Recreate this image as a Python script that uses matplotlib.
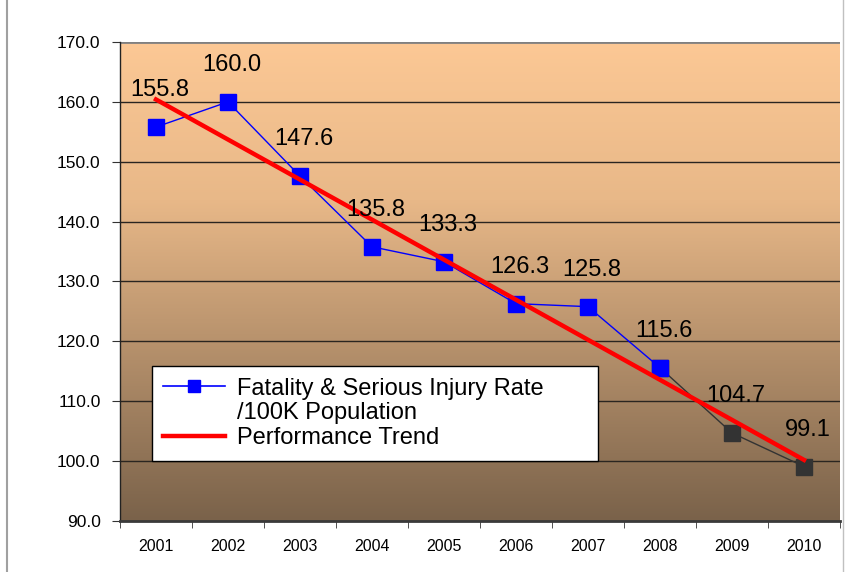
#!/usr/bin/env python3
"""Fatality & serious injury rate per 100K population, 2001-2010, with trend line"""

import numpy as np
import matplotlib

matplotlib.use("Agg")
import matplotlib.pyplot as plt
from matplotlib.colors import LinearSegmentedColormap
from matplotlib.lines import Line2D

# ========================================================================
#
# Data
#
# ========================================================================
years = ["2001", "2002", "2003", "2004", "2005", "2006", "2007", "2008", "2009", "2010"]
rates = [155.8, 160.0, 147.6, 135.8, 133.3, 126.3, 125.8, 115.6, 104.7, 99.1]
n_actual = 8  # first 8 years drawn in blue, the rest in dark grey
trend_ends = [160.4, 100.2]  # performance trend at 2001 and 2010
yticks = [90, 100, 110, 120, 130, 140, 150, 160, 170]

rate_label = ["Fatality & Serious Injury Rate", "/100K Population"]
trend_label = "Performance Trend"

# ========================================================================
#
# Plot
#
# ========================================================================
plt.rcParams["font.family"] = ["Liberation Sans", "DejaVu Sans"]

fig = plt.figure(figsize=(8.53, 5.72), dpi=100)
ax = fig.add_axes([120 / 853, 1 - 521 / 572, 720 / 853, 479 / 572])

x = np.arange(len(years))
ax.set_xlim(-0.5, len(years) - 0.5)
ax.set_ylim(90, 170)

# gradient background
cmap = LinearSegmentedColormap.from_list(
    "bg", [(0.0, "#7a624a"), (0.67, "#e8b888"), (1.0, "#fcc895")]
)
grad = np.linspace(0, 1, 256).reshape(-1, 1)
ax.imshow(
    grad,
    origin="lower",
    aspect="auto",
    cmap=cmap,
    extent=[-0.5, len(years) - 0.5, 90, 170],
    zorder=0,
)

# grid
for yv in yticks[1:-1]:
    ax.axhline(yv, color="#2a2520", lw=1.0, zorder=1)
ax.axhline(yticks[-1], color="#808080", lw=2.0, zorder=1)

# series
dark = "#333333"
ax.plot(x[n_actual - 1:], rates[n_actual - 1:], color=dark, lw=1.0, zorder=2)
ax.plot(
    x[n_actual - 1:], rates[n_actual - 1:], ls="none", marker="s", ms=12,
    color=dark, mec=dark, zorder=3,
)
ax.plot(
    x[:n_actual], rates[:n_actual], color="#0000ff", lw=1.0, marker="s", ms=12,
    mec="#0000ff", zorder=4,
)
ax.plot([x[0], x[-1]], trend_ends, color="#ff0000", lw=3.2, zorder=5)

for xi, yi in zip(x, rates):
    ax.annotate(
        f"{yi:.1f}", (xi, yi), xytext=(4, 37), textcoords="offset pixels",
        ha="center", va="center", fontsize=17, color="black", zorder=6,
    )

# axes styling
ax.set_yticks(yticks)
ax.set_yticklabels([f"{v:.1f}" for v in yticks], fontsize=12.5)
ax.set_xticks(x)
ax.set_xticklabels(years, fontsize=11.5)
ax.set_xticks(np.arange(-0.5, len(years)), minor=True)
ax.tick_params(axis="x", which="major", length=0, pad=13)
ax.tick_params(axis="x", which="minor", length=5, color="#333333")
ax.tick_params(axis="y", length=6, pad=8, color="#333333")

for side in ["top", "right"]:
    ax.spines[side].set_visible(False)
ax.spines["left"].set_color("#222222")
ax.spines["left"].set_linewidth(1.0)
ax.spines["bottom"].set_color("#3a3a3a")
ax.spines["bottom"].set_linewidth(2.0)

# legend: the series label wraps onto a second row with no handle
handles = [
    Line2D([], [], color="#0000ff", lw=1.2, marker="s", ms=8),
    Line2D([], [], color="none"),
    Line2D([], [], color="#ff0000", lw=3.2),
]
labels = rate_label + [trend_label]
leg = ax.legend(
    handles,
    labels,
    loc="lower left",
    bbox_to_anchor=(0.044, 0.125, 0.62, 0.182),
    mode="expand",
    fontsize=17,
    frameon=True,
    fancybox=False,
    framealpha=1,
    edgecolor="black",
    labelspacing=0.12,
    handlelength=2.6,
    handletextpad=0.5,
    borderpad=0.5,
    borderaxespad=0,
)
leg.get_frame().set_linewidth(1.0)
leg.set_zorder(7)

# outer border lines of the chart
fig.add_artist(Line2D([7 / 853, 7 / 853], [0, 1], color="#a0a0a0", lw=1.5))
fig.add_artist(Line2D([843 / 853, 843 / 853], [0, 1], color="#c0c0c0", lw=1.0))

fig.savefig("out.png", dpi=100)
